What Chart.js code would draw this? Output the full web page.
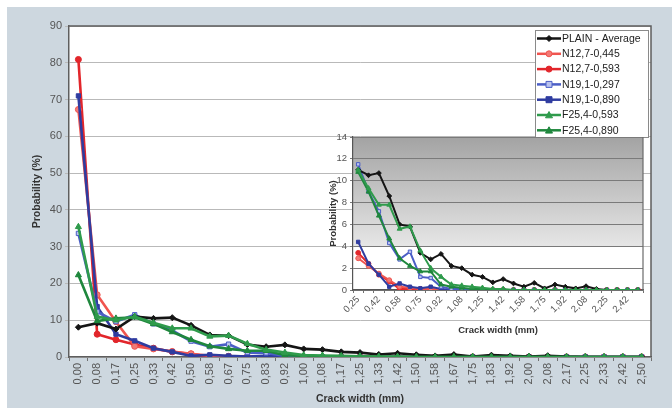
<!DOCTYPE html>
<html>
<head>
<meta charset="utf-8">
<script src="https://cdn.jsdelivr.net/npm/chart.js@4"></script>
<style>
  html, body { margin: 0; padding: 0; background: #fff; }
  #wrap { position: relative; width: 672px; height: 409px; }
  #main { position: absolute; left: 0; top: 0; }
  #inset { position: absolute; left: 315px; top: 125px; }
</style>
</head>
<body>
<div id="wrap">
  <canvas id="main" width="672" height="409"></canvas>
  <canvas id="inset" width="340" height="215"></canvas>
</div>
<script>
// Crack width classes (mm) and probability of each class (%)
const crackWidths = ['0,00','0,08','0,17','0,25','0,33','0,42','0,50','0,58','0,67','0,75','0,83','0,92','1,00','1,08','1,17','1,25','1,33','1,42','1,50','1,58','1,67','1,75','1,83','1,92','2,00','2,08','2,17','2,25','2,33','2,42','2,50'];
const yTicksMain = [0, 10, 20, 30, 40, 50, 60, 70, 80, 90];
const yTicksInset = [0, 2, 4, 6, 8, 10, 12, 14];

const plainAverage = [8.1, 9.2, 7.6, 11.0, 10.5, 10.7, 8.6, 6.0, 5.8, 3.4, 2.8, 3.3, 2.2, 2.0, 1.4, 1.2, 0.7, 1.0, 0.6, 0.3, 0.65, 0.15, 0.5, 0.3, 0.15, 0.35, 0.1, 0, 0, 0, 0];
const n127_0445 = [67.3, 16.9, 9.6, 2.9, 2.2, 1.5, 0.9, 0.3, 0.2, 0.1, 0.1, 0, 0, 0, 0, 0, 0, 0, 0, 0, 0, 0, 0, 0, 0, 0, 0, 0, 0, 0, 0];
const n127_0593 = [80.9, 6.2, 4.7, 3.4, 2.4, 1.4, 0.8, 0.1, 0.1, 0.1, 0.1, 0, 0, 0, 0, 0, 0, 0, 0, 0, 0, 0, 0, 0, 0, 0, 0, 0, 0, 0, 0];
const n191_0297 = [33.6, 12.3, 9.6, 11.5, 9.0, 7.2, 4.3, 2.8, 3.5, 1.2, 1.1, 0.3, 0.1, 0.1, 0, 0, 0, 0, 0, 0, 0, 0, 0, 0, 0, 0, 0, 0, 0, 0, 0];
const n191_0890 = [71.0, 13.7, 6.2, 4.4, 2.4, 1.4, 0.3, 0.6, 0.3, 0.15, 0.3, 0.1, 0, 0, 0, 0, 0, 0, 0, 0, 0, 0, 0, 0, 0, 0, 0, 0, 0, 0, 0];
const f254_0593 = [35.4, 11.0, 10.0, 11.0, 9.3, 7.8, 7.8, 5.6, 5.8, 3.6, 2.0, 1.2, 0.5, 0.4, 0.3, 0.2, 0.1, 0.1, 0, 0, 0, 0, 0, 0, 0, 0, 0, 0, 0, 0, 0];
const f254_0890 = [22.3, 9.8, 10.5, 10.8, 9.0, 6.8, 4.7, 2.9, 2.2, 1.7, 1.7, 0.5, 0.3, 0.2, 0.1, 0.1, 0, 0, 0, 0, 0, 0, 0, 0, 0, 0, 0, 0, 0, 0, 0];

// The detail plot starts at 0,25 mm
const insetStart = 3;

const FONT = "'Liberation Sans', Arial, sans-serif";

// order: lower value is painted on top
const seriesDefs = [
  { label: 'PLAIN - Average', data: plainAverage, color: '#151515', fill: '#151515', style: 'rectRot', r: 3, order: 1 },
  { label: 'N12,7-0,445',     data: n127_0445,   color: '#f0544f', fill: '#f27a76', style: 'circle',  r: 3, order: 3 },
  { label: 'N12,7-0,593',     data: n127_0593,   color: '#e2262b', fill: '#e2262b', style: 'circle',  r: 3, order: 3 },
  { label: 'N19,1-0,297',     data: n191_0297,   color: '#4b5ec6', fill: '#b9c2ee', style: 'rect',    r: 3, order: 2 },
  { label: 'N19,1-0,890',     data: n191_0890,   color: '#2f3ca0', fill: '#2f3ca0', style: 'rect',    r: 3, order: 2 },
  { label: 'F25,4-0,593',     data: f254_0593,   color: '#2f9b4c', fill: '#2f9b4c', style: 'triangle', r: 3.5, order: 0 },
  { label: 'F25,4-0,890',     data: f254_0890,   color: '#1f873d', fill: '#1f873d', style: 'triangle', r: 3.5, order: 0 }
];

function makeDatasets(sliceFrom, lineW, radScale) {
  return seriesDefs.map(s => ({
    label: s.label,
    data: s.data.slice(sliceFrom),
    borderColor: s.color,
    backgroundColor: s.fill,
    pointBackgroundColor: s.fill,
    pointBorderColor: s.color,
    pointBorderWidth: 1,
    pointStyle: s.style,
    pointRadius: s.r * radScale,
    borderWidth: lineW,
    tension: 0,
    order: s.order
  }));
}

function drawMarker(ctx, s, x, y) {
  const r = s.r;
  ctx.fillStyle = s.fill;
  ctx.strokeStyle = s.color;
  ctx.lineWidth = 1;
  ctx.beginPath();
  if (s.style === 'circle') {
    ctx.arc(x, y, r, 0, Math.PI * 2);
  } else if (s.style === 'rect') {
    ctx.rect(x - r, y - r, 2 * r, 2 * r);
  } else if (s.style === 'rectRot') {
    ctx.moveTo(x, y - r); ctx.lineTo(x + r, y); ctx.lineTo(x, y + r); ctx.lineTo(x - r, y); ctx.closePath();
  } else {
    ctx.moveTo(x, y - r); ctx.lineTo(x + r, y + r * 0.8); ctx.lineTo(x - r, y + r * 0.8); ctx.closePath();
  }
  ctx.fill();
  ctx.stroke();
}

// Panel background, plot frame and the boxed legend of the main chart
const mainPanel = {
  id: 'mainPanel',
  beforeDraw(chart) {
    const { ctx, chartArea: a } = chart;
    ctx.save();
    ctx.fillStyle = '#ffffff';
    ctx.fillRect(0, 0, chart.width, chart.height);
    ctx.fillStyle = '#cdd7df';
    ctx.fillRect(7, 7, chart.width - 7, chart.height - 8);
    ctx.fillStyle = '#ffffff';
    ctx.fillRect(a.left, a.top, a.right - a.left, a.bottom - a.top);
    ctx.restore();
  },
  afterDraw(chart) {
    const { ctx, chartArea: a } = chart;
    ctx.save();
    ctx.strokeStyle = '#5e5e5e';
    ctx.lineWidth = 1.5;
    ctx.beginPath();
    ctx.moveTo(a.left, a.top);
    ctx.lineTo(a.right, a.top);
    ctx.lineTo(a.right, a.bottom);
    ctx.stroke();

    // legend box
    const bx = 535, by = 30, bw = 113, bh = 107;
    ctx.fillStyle = '#ffffff';
    ctx.fillRect(bx, by, bw, bh);
    ctx.strokeStyle = '#8a8a8a';
    ctx.lineWidth = 1;
    ctx.strokeRect(bx + 0.5, by + 0.5, bw, bh);
    ctx.font = '10.5px ' + FONT;
    ctx.textBaseline = 'middle';
    ctx.textAlign = 'left';
    seriesDefs.forEach((s, i) => {
      const cy = by + 8.5 + i * 15.3;
      ctx.strokeStyle = s.color;
      ctx.lineWidth = 2.5;
      ctx.beginPath();
      ctx.moveTo(bx + 2, cy);
      ctx.lineTo(bx + 26, cy);
      ctx.stroke();
      drawMarker(ctx, s, bx + 14, cy);
      ctx.fillStyle = '#222222';
      ctx.fillText(s.label, bx + 27, cy + 0.5);
    });
    ctx.restore();
  }
};

new Chart(document.getElementById('main'), {
  type: 'line',
  data: { labels: crackWidths, datasets: makeDatasets(0, 2.6, 1) },
  options: {
    responsive: false,
    animation: false,
    layout: { padding: { left: 27, top: 26, right: 21, bottom: 0 } },
    plugins: { legend: { display: false }, tooltip: { enabled: false } },
    scales: {
      x: {
        type: 'category',
        offset: true,
        afterFit: s => { s.height = 52; },
        grid: { offset: true, drawOnChartArea: false, drawTicks: true, tickLength: 4, color: '#707070' },
        border: { color: '#5e5e5e', width: 1.5 },
        ticks: { autoSkip: false, minRotation: 90, maxRotation: 90, padding: 2, color: '#555555', font: { family: FONT, size: 11 } },
        title: { display: true, text: 'Crack width (mm)', color: '#333333', padding: { top: 2, bottom: 4 }, font: { family: FONT, size: 10.5, weight: 'bold' } }
      },
      y: {
        min: 0, max: 90,
        afterFit: s => { s.width = 42; },
        afterBuildTicks: s => { s.ticks = yTicksMain.map(v => ({ value: v })); },
        grid: { color: '#b9b9b9', lineWidth: 1, tickLength: 4 },
        border: { color: '#5e5e5e', width: 1.5 },
        ticks: { padding: 3, color: '#555555', font: { family: FONT, size: 11 } },
        title: { display: true, text: 'Probability (%)', color: '#333333', padding: { top: 4, bottom: 2 }, font: { family: FONT, size: 10.5, weight: 'bold' } }
      }
    }
  },
  plugins: [mainPanel]
});

// Shaded backdrop and frame of the detail plot
const insetPanel = {
  id: 'insetPanel',
  beforeDraw(chart) {
    const { ctx, chartArea: a, scales } = chart;
    const yShade = scales.y.getPixelForValue(4);
    ctx.save();
    ctx.fillStyle = '#ffffff';
    ctx.fillRect(a.left, a.top, a.right - a.left, a.bottom - a.top);
    const g = ctx.createLinearGradient(0, a.top, 0, yShade);
    g.addColorStop(0, '#a3a3a3');
    g.addColorStop(1, '#e6e6e6');
    ctx.fillStyle = g;
    ctx.fillRect(a.left, a.top, a.right - a.left, yShade - a.top);
    ctx.restore();
  },
  afterDraw(chart) {
    const { ctx, chartArea: a } = chart;
    ctx.save();
    ctx.strokeStyle = '#6a6a6a';
    ctx.lineWidth = 1.2;
    ctx.beginPath();
    ctx.moveTo(a.right, a.top);
    ctx.lineTo(a.right, a.bottom);
    ctx.stroke();
    ctx.restore();
  }
};

new Chart(document.getElementById('inset'), {
  type: 'line',
  data: { labels: crackWidths.slice(insetStart), datasets: makeDatasets(insetStart, 2, 0.8) },
  options: {
    responsive: false,
    animation: false,
    layout: { padding: { left: 9, top: 12, right: 12, bottom: 0 } },
    plugins: { legend: { display: false }, tooltip: { enabled: false } },
    scales: {
      x: {
        type: 'category',
        offset: true,
        afterFit: s => { s.height = 50; },
        grid: { offset: true, drawOnChartArea: false, drawTicks: true, tickLength: 3, color: '#707070' },
        border: { color: '#555555', width: 1.2 },
        ticks: {
          autoSkip: false, minRotation: 45, maxRotation: 45, padding: 1,
          color: '#555555', font: { family: FONT, size: 9.5 },
          callback: function (v, i) { return i % 2 === 0 ? this.getLabelForValue(v) : ''; }
        },
        title: { display: true, text: 'Crack width (mm)', color: '#333333', padding: { top: 2, bottom: 4 }, font: { family: FONT, size: 9.5, weight: 'bold' } }
      },
      y: {
        min: 0, max: 14,
        afterFit: s => { s.width = 29; },
        afterBuildTicks: s => { s.ticks = yTicksInset.map(v => ({ value: v })); },
        grid: { color: '#7a7a7a', lineWidth: 1, tickLength: 3 },
        border: { color: '#555555', width: 1.2 },
        ticks: { padding: 3, color: '#555555', font: { family: FONT, size: 9.5 } },
        title: { display: true, text: 'Probability (%)', color: '#333333', padding: { top: 4, bottom: 2 }, font: { family: FONT, size: 9.5, weight: 'bold' } }
      }
    }
  },
  plugins: [insetPanel]
});
</script>
</body>
</html>
